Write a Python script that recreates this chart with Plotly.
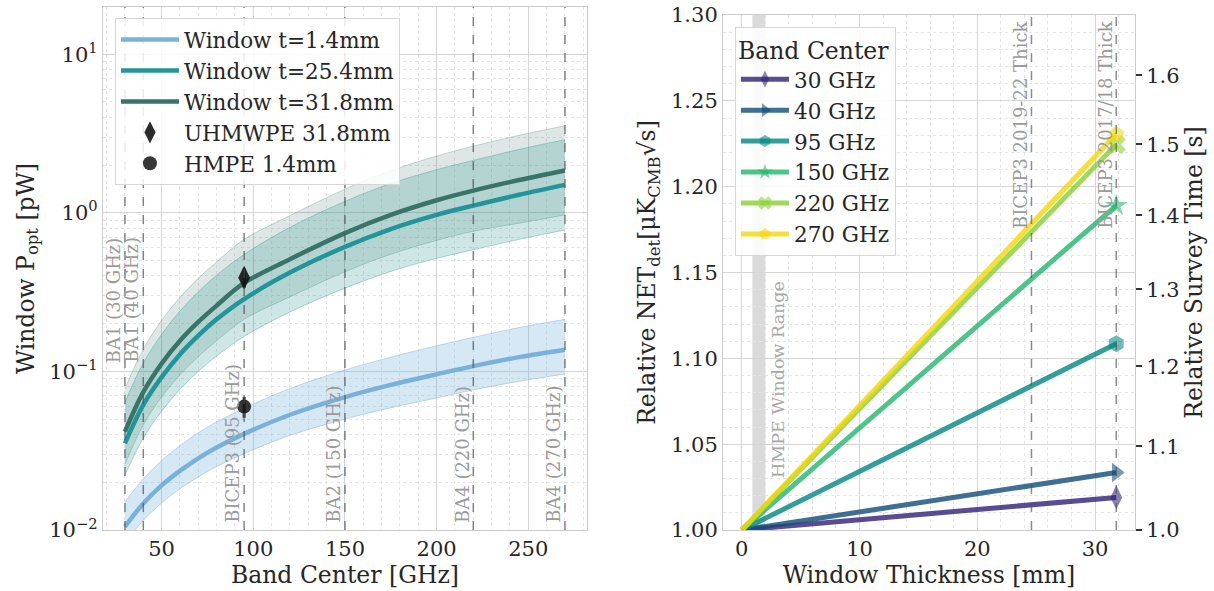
import numpy as np
import plotly.graph_objects as go

# ---------------- Left panel data ----------------
freq = [30, 40, 50, 60, 70, 80, 95, 120, 150, 175, 200, 220, 245, 270]

p_t14 = [0.0105, 0.0147, 0.0191, 0.0236, 0.0283, 0.0331, 0.0404, 0.0533, 0.0689, 0.0822, 0.0959, 0.108, 0.123, 0.137]
p_t14_hi = [0.0150, 0.021, 0.0274, 0.034, 0.041, 0.048, 0.0585, 0.078, 0.102, 0.123, 0.145, 0.164, 0.189, 0.213]
p_t14_lo = [0.0082, 0.0115, 0.0148, 0.0182, 0.0216, 0.0251, 0.0303, 0.0395, 0.050, 0.059, 0.068, 0.0765, 0.0866, 0.0964]

p_t254 = [0.0352, 0.0615, 0.092, 0.128, 0.168, 0.213, 0.286, 0.42, 0.61, 0.79, 0.97, 1.11, 1.30, 1.50]
p_t254_hi = [0.064, 0.113, 0.171, 0.240, 0.317, 0.404, 0.546, 0.81, 1.18, 1.53, 1.87, 2.14, 2.51, 2.89]
p_t254_lo = [0.0222, 0.038, 0.056, 0.077, 0.100, 0.125, 0.166, 0.237, 0.335, 0.427, 0.516, 0.585, 0.68, 0.78]

p_t318 = [0.0417, 0.074, 0.112, 0.156, 0.205, 0.26, 0.361, 0.51, 0.745, 0.97, 1.20, 1.38, 1.61, 1.85]
p_t318_hi = [0.078, 0.138, 0.21, 0.293, 0.386, 0.49, 0.68, 0.96, 1.41, 1.84, 2.28, 2.63, 3.08, 3.54]
p_t318_lo = [0.026, 0.046, 0.069, 0.095, 0.124, 0.156, 0.213, 0.295, 0.425, 0.548, 0.67, 0.765, 0.86, 0.97]

meas_freq = [95]
uhmwpe_val = [0.39]
uhmwpe_err = [0.055]
hmpe_val = [0.060]
hmpe_err = [0.009]

band_lines = [30, 40, 95, 150, 220, 270]
band_labels = ["BA1 (30 GHz)", "BA1 (40 GHz)", "BICEP3 (95 GHz)", "BA2 (150 GHz)", "BA4 (220 GHz)", "BA4 (270 GHz)"]
band_label_y = [0.11, 0.11, 0.0108, 0.0108, 0.0108, 0.0108]

# ---------------- Right panel data ----------------
thick = [0, 31.8]
bands_ghz = ["30 GHz", "40 GHz", "95 GHz", "150 GHz", "220 GHz", "270 GHz"]
net_end = [1.019, 1.0335, 1.1085, 1.189, 1.2245, 1.2305]
symbols = ["diamond-tall", "triangle-right", "hexagon", "star", "x", "pentagon"]
colors = ["rgba(49,31,120,0.8)", "rgba(15,75,119,0.8)", "rgba(0,134,129,0.8)",
          "rgba(35,181,109,0.8)", "rgba(135,208,50,0.8)", "rgba(243,215,11,0.8)"]
thick_lines = [24.6, 31.8]
thick_labels = ["BICEP3 2019-22 Thick", "BICEP3 2017/18 Thick"]
hmpe_range = [0.9, 2.0]
survey_ticks = [1.0, 1.1, 1.2, 1.3, 1.4, 1.5, 1.6]

FONT = "DejaVu Serif"
TXT = "#262626"
TICK = 21
TITLE = 23.5
LEG = 21.5

fig = go.Figure()

band_specs = [
    (p_t318_lo, p_t318_hi, "rgba(47,107,94,0.16)", "rgba(47,107,94,0.25)"),
    (p_t254_lo, p_t254_hi, "rgba(33,145,140,0.22)", "rgba(33,145,140,0.35)"),
    (p_t14_lo, p_t14_hi, "rgba(120,178,218,0.30)", "rgba(120,178,218,0.45)"),
]
for lo, hi, fc, lc in band_specs:
    fig.add_trace(go.Scatter(x=freq, y=lo, mode="lines", line=dict(color=lc, width=1, shape="spline"),
                             showlegend=False, hoverinfo="skip", xaxis="x", yaxis="y"))
    fig.add_trace(go.Scatter(x=freq, y=hi, mode="lines", line=dict(color=lc, width=1, shape="spline"),
                             fill="tonexty", fillcolor=fc, showlegend=False, hoverinfo="skip",
                             xaxis="x", yaxis="y"))

line_specs = [
    (p_t14, "Window t=1.4mm", "#78b2da"),
    (p_t254, "Window t=25.4mm", "#23959a"),
    (p_t318, "Window t=31.8mm", "#3a7468"),
]
for y, name, c in line_specs:
    fig.add_trace(go.Scatter(x=freq, y=y, mode="lines", name=name, line=dict(color=c, width=4.5, shape="spline"),
                             legend="legend", xaxis="x", yaxis="y"))

fig.add_trace(go.Scatter(x=meas_freq, y=uhmwpe_val, mode="markers", name="UHMWPE 31.8mm",
                         marker=dict(symbol="diamond-tall", size=17, color="rgba(20,20,20,0.9)"),
                         error_y=dict(type="data", array=uhmwpe_err, color="rgba(20,20,20,0.9)", thickness=3, width=0),
                         legend="legend", xaxis="x", yaxis="y"))
fig.add_trace(go.Scatter(x=meas_freq, y=hmpe_val, mode="markers", name="HMPE 1.4mm",
                         marker=dict(symbol="circle", size=14, color="rgba(20,20,20,0.85)"),
                         error_y=dict(type="data", array=hmpe_err, color="rgba(20,20,20,0.85)", thickness=3, width=0),
                         legend="legend", xaxis="x", yaxis="y"))

shapes = []
annotations = []
for f, lab, ly in zip(band_lines, band_labels, band_label_y):
    shapes.append(dict(type="line", xref="x", yref="y domain", x0=f, x1=f, y0=0, y1=1,
                       line=dict(color="rgba(80,80,80,0.7)", width=1.5, dash="dash"), layer="above"))
    annotations.append(dict(x=f, y=np.log10(ly), xref="x", yref="y", text=lab, textangle=-90,
                            xanchor="right", yanchor="bottom", showarrow=False, xshift=1,
                            font=dict(family=FONT, size=18, color="#9a9a9a")))

# ---------------- Right panel ----------------
shapes.append(dict(type="rect", xref="x2", yref="y2 domain", x0=hmpe_range[0], x1=hmpe_range[1], y0=0, y1=1,
                   fillcolor="rgba(150,150,150,0.35)", line=dict(width=0), layer="below"))
annotations.append(dict(x=hmpe_range[1], y=1.029, xref="x2", yref="y2", text="HMPE Window Range", textangle=-90,
                        xanchor="left", yanchor="bottom", showarrow=False, xshift=0,
                        font=dict(family=FONT, size=17.5, color="#a8a8a8")))
for t, lab in zip(thick_lines, thick_labels):
    shapes.append(dict(type="line", xref="x2", yref="y2 domain", x0=t, x1=t, y0=0, y1=1,
                       line=dict(color="rgba(80,80,80,0.65)", width=1.5, dash="dash"), layer="above"))
    annotations.append(dict(x=t, y=1.0, xref="x2", yref="y2 domain", text=lab, textangle=-90,
                            xanchor="right", yanchor="top", showarrow=False, xshift=1, yshift=-4,
                            font=dict(family=FONT, size=18, color="#9a9a9a")))

for name, end, sym, c in zip(bands_ghz, net_end, symbols, colors):
    fig.add_trace(go.Scatter(x=thick, y=[1.0, end], mode="lines+markers", name=name,
                             line=dict(color=c, width=5),
                             marker=dict(symbol=sym, size=[0, 17], color=c, line=dict(width=0)),
                             legend="legend2", xaxis="x2", yaxis="y2"))
fig.add_trace(go.Scatter(x=[0], y=[1.0], mode="markers", marker=dict(opacity=0), showlegend=False,
                         hoverinfo="skip", xaxis="x2", yaxis="y3"))

minor_log = [m * 10.0 ** e for e in (-2, -1, 0, 1) for m in range(2, 10) if m * 10.0 ** e < 20]

grid_major = "#d5d5d5"
grid_minor = "#e6e6e6"
axis_common = dict(showline=True, linecolor="#cccccc", linewidth=1.2, mirror=True, ticks="",
                   gridcolor=grid_major, gridwidth=1.2, zeroline=False, automargin=False,
                   tickfont=dict(family=FONT, size=TICK, color=TXT))

fig.update_layout(
    width=1214, height=591, margin=dict(l=0, r=0, t=0, b=0),
    paper_bgcolor="white", plot_bgcolor="white",
    font=dict(family=FONT, color=TXT),
    xaxis=dict(domain=[0.0848, 0.4835], range=[18, 282], tickvals=[50, 100, 150, 200, 250],
               title=dict(text="Band Center [GHz]", font=dict(size=TITLE), standoff=4),
               minor=dict(dtick=10, tick0=0, showgrid=True, griddash="dot", gridcolor=grid_minor, gridwidth=1),
               anchor="y", **axis_common),
    yaxis=dict(domain=[0.1032, 0.988], type="log", range=[-2, 1.297],
               tickvals=[0.01, 0.1, 1, 10],
               ticktext=["10<sup>\u22122</sup>", "10<sup>\u22121</sup>", "10<sup>0</sup>", "10<sup>1</sup>"],
               title=dict(text="Window P<sub>opt</sub> [pW]", font=dict(size=TITLE), standoff=8),
               minor=dict(tickvals=minor_log, showgrid=True, griddash="dot", gridcolor=grid_minor, gridwidth=1),
               anchor="x", **axis_common),
    xaxis2=dict(domain=[0.5956, 0.9349], range=[-1.59, 33.39], tickvals=[0, 10, 20, 30],
                title=dict(text="Window Thickness [mm]", font=dict(size=TITLE), standoff=4),
                minor=dict(dtick=2, tick0=0, showgrid=True, griddash="dot", gridcolor=grid_minor, gridwidth=1),
                anchor="y2", **axis_common),
    yaxis2=dict(domain=[0.1032, 0.9746], range=[1.0, 1.3], dtick=0.05, tick0=1.0, tickformat=".2f",
                title=dict(text="Relative NET<sub>det</sub>[\u03bcK<sub>CMB</sub>\u221as]", font=dict(size=TITLE), standoff=8),
                minor=dict(dtick=0.01, tick0=1.0, showgrid=True, griddash="dot", gridcolor=grid_minor, gridwidth=1),
                anchor="x2", **axis_common),
    yaxis3=dict(overlaying="y2", side="right", anchor="x2", range=[1.0, 1.3],
                tickvals=list(np.sqrt(survey_ticks)), ticktext=[f"{v:.1f}" for v in survey_ticks],
                ticks="outside", ticklen=6, tickwidth=1.5, tickcolor="#333333", showgrid=False,
                showline=False, zeroline=False, automargin=False,
                tickfont=dict(family=FONT, size=TICK, color=TXT),
                title=dict(text="Relative Survey Time [s]", font=dict(family=FONT, size=TITLE, color=TXT), standoff=6)),
    legend=dict(x=0.0947, y=0.9695, xanchor="left", yanchor="top", bgcolor="rgba(255,255,255,0.85)",
                bordercolor="#d6d6d6", borderwidth=1, font=dict(family=FONT, size=LEG, color=TXT),
                traceorder="normal", tracegroupgap=0, itemwidth=58),
    legend2=dict(x=0.6054, y=0.954, xanchor="left", yanchor="top", bgcolor="rgba(255,255,255,0.85)",
                 bordercolor="#d6d6d6", borderwidth=1, font=dict(family=FONT, size=LEG, color=TXT),
                 title=dict(text="Band Center", font=dict(family=FONT, size=23.5, color=TXT)),
                 traceorder="normal", itemsizing="constant", itemwidth=48),
    shapes=shapes, annotations=annotations,
)

fig.write_html("out.html", config={"displayModeBar": False},
               post_script="document.body.style.margin='0px';")
